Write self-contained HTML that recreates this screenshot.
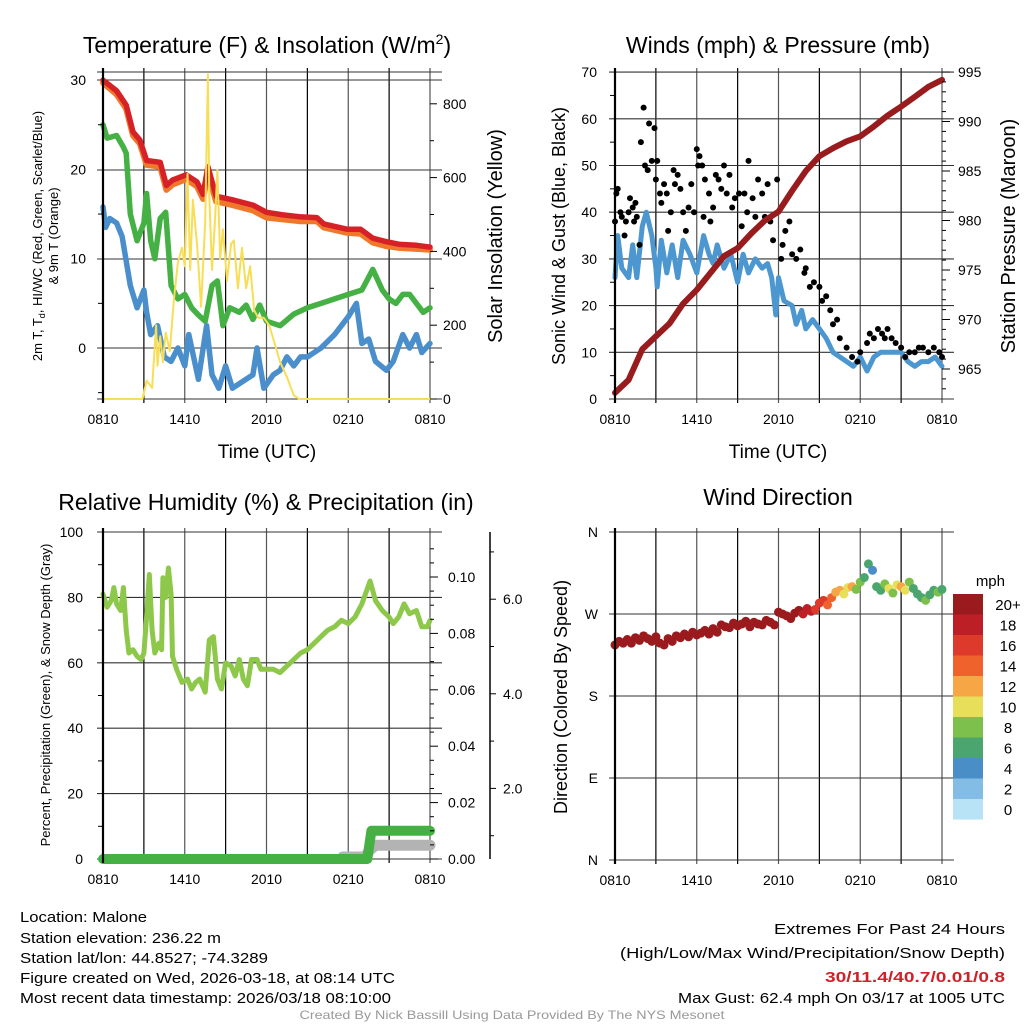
<!DOCTYPE html>
<html><head><meta charset="utf-8"><title>Mesonet Meteogram</title>
<style>
html,body{margin:0;padding:0;background:#fff;}
svg{display:block;font-family:"Liberation Sans",sans-serif;}
</style></head>
<body>
<svg id="chart" width="1024" height="1024" viewBox="0 0 1024 1024">
<g id="grid"></g>
<g id="marks"></g>
<g id="axes"></g>
<g id="labels" fill="#000">
<text x="267" y="53" font-size="23" text-anchor="middle">Temperature (F) &amp; Insolation (W/m<tspan font-size="14" dy="-9">2</tspan><tspan dy="9">)</tspan></text>
<text x="778" y="53" font-size="23" text-anchor="middle">Winds (mph) &amp; Pressure (mb)</text>
<text x="266" y="510" font-size="23" text-anchor="middle">Relative Humidity (%) &amp; Precipitation (in)</text>
<text x="778" y="505" font-size="23" text-anchor="middle">Wind Direction</text>
<text x="267" y="458" font-size="19" text-anchor="middle">Time (UTC)</text>
<text x="778" y="458" font-size="19" text-anchor="middle">Time (UTC)</text>
<g transform="translate(42,236) rotate(-90)" font-size="13" text-anchor="middle">
<text x="0" y="0">2m T, T<tspan font-size="9" dy="3">d</tspan><tspan dy="-3">, HI/WC (Red, Green, Scarlet/Blue)</tspan></text>
<text x="0" y="16">&amp; 9m T (Orange)</text></g>
<text transform="translate(502,236) rotate(-90)" font-size="20" text-anchor="middle">Solar Insolation (Yellow)</text>
<text transform="translate(565,236) rotate(-90)" font-size="18" text-anchor="middle">Sonic Wind &amp; Gust (Blue, Black)</text>
<text transform="translate(1015,236) rotate(-90)" font-size="20" text-anchor="middle">Station Pressure (Maroon)</text>
<text transform="translate(50,695) rotate(-90)" font-size="13" text-anchor="middle">Percent, Precipitation (Green), &amp; Snow Depth (Gray)</text>
<text transform="translate(567,697) rotate(-90)" font-size="18" text-anchor="middle">Direction (Colored By Speed)</text>
<text x="1005" y="586" font-size="15" text-anchor="end">mph</text>
<g font-size="15">
<text x="20" y="922" textLength="127" lengthAdjust="spacingAndGlyphs">Location: Malone</text>
<text x="20" y="943" textLength="201" lengthAdjust="spacingAndGlyphs">Station elevation: 236.22 m</text>
<text x="20" y="963" textLength="248" lengthAdjust="spacingAndGlyphs">Station lat/lon: 44.8527; -74.3289</text>
<text x="20" y="983" textLength="375" lengthAdjust="spacingAndGlyphs">Figure created on Wed, 2026-03-18, at 08:14 UTC</text>
<text x="20" y="1003" textLength="371" lengthAdjust="spacingAndGlyphs">Most recent data timestamp: 2026/03/18 08:10:00</text>
</g>
<g font-size="15" text-anchor="end">
<text x="1005" y="934" textLength="231" lengthAdjust="spacingAndGlyphs">Extremes For Past 24 Hours</text>
<text x="1005" y="958" textLength="385" lengthAdjust="spacingAndGlyphs">(High/Low/Max Wind/Precipitation/Snow Depth)</text>
<text x="1005" y="982" fill="#d0202a" font-weight="bold" textLength="180" lengthAdjust="spacingAndGlyphs">30/11.4/40.7/0.01/0.8</text>
<text x="1005" y="1003" textLength="327" lengthAdjust="spacingAndGlyphs">Max Gust: 62.4 mph On 03/17 at 1005 UTC</text>
</g>
<text x="512" y="1019" font-size="12" fill="#999" text-anchor="middle" textLength="425" lengthAdjust="spacingAndGlyphs">Created By Nick Bassill Using Data Provided By The NYS Mesonet</text>
</g>
</svg>
<script>
// ---------- data ----------
const timeLabels = ["0810","1410","2010","0210","0810"];
const tempHours = [0,1,1.7,2.2,2.7,3.2,4.2,4.65,5.1,6.1,6.9,7.35,7.7,8.3,9.5,11,12,13.2,14.4,15.7,16.2,17.9,18.9,19.8,20.8,21.8,23,24];
const tempRed = [30,28.8,27.2,24.2,23.3,21,20.8,18.2,18.8,19.4,18.6,17.2,20.3,17,16.6,16,15.2,14.9,14.7,14.6,13.9,13.3,13.3,12.3,11.9,11.6,11.5,11.3];
const temp9m = [29.7,28.4,26.8,23.8,22.9,20.5,20.3,17.7,18.3,18.9,18.1,16.7,19.6,16.4,16,15.4,14.6,14.4,14.2,14.2,13.5,12.9,12.8,11.8,11.4,11.2,11.1,11];
const dewHours = [0,0.3,1,1.5,1.7,2,2.5,3,3.2,3.5,3.8,4.2,4.6,5,5.5,6,6.5,7,7.5,8,8.4,8.8,9.3,10,10.5,11,11.5,12,13,14,15,16,17,18,19,19.8,20.5,21,21.5,22,22.5,23,23.5,24];
const dewGreen = [25,23.5,23.8,22.5,21.8,15,12,14,17.3,12,10,14.5,15.2,7,5.5,6,4.5,3.7,3,7,7.5,2.5,4.5,4,4.8,3.2,4.8,3,2.5,3.8,4.5,5,5.5,6,6.5,8.8,6.5,5.5,5,6,6,5,4,4.5];
const wcHours = [0,0.2,0.5,1,1.4,2,2.5,3,3.2,3.5,4,4.5,5,5.5,6,6.3,7,7.6,8,8.5,9,9.5,10,11,11.3,11.8,12.5,13,13.5,14,14.5,15,16,17,18,18.6,19,19.5,20,20.8,21.3,22,22.5,23,23.4,24];
const wcBlue = [15.8,13.5,14.5,14,12.5,7,4.5,6.5,4,1.5,2.5,-1,-1.5,0,-2,1.5,-3.5,2.5,-3,-4.5,-2,-4.5,-4,-3,0,-4.5,-3,-2.5,-1,-2,-1,-1,0,1.5,3.5,5,0.5,1,-1.5,-2.5,-1.5,1.5,0,1.5,-0.5,0.5];
const solarHours = [0,2.9,3.2,3.6,3.9,4.0,4.2,4.4,4.6,4.9,5.2,5.5,5.8,6.0,6.2,6.4,6.6,6.9,7.2,7.5,7.7,7.8,8.0,8.2,8.4,8.6,8.8,9.1,9.4,9.6,9.9,10.2,10.5,10.8,11.1,11.4,11.8,12.2,12.6,13,13.5,14,14.4,24];
const solarW = [0,0,50,30,200,90,170,100,180,130,270,370,410,360,610,350,540,420,250,480,880,550,350,470,620,380,460,320,420,430,300,410,300,360,240,220,220,200,150,100,60,10,0,0];
const pressHours = [0,1,2,3,4,5,6,7,8,9,10,11,12,13,14,15,16,17,18,19,20,21,22,23,24];
const pressMb = [962.6,963.9,967,968.3,969.6,971.6,973,974.7,976.4,977.2,978.7,980,980.9,983,985,986.5,987.3,988,988.5,989.5,990.6,991.5,992.5,993.5,994.2];
const windHours = [0,0.2,0.5,1,1.3,1.6,2,2.3,2.7,3,3.1,3.4,3.8,4.2,4.6,5,5.5,6,6.5,6.9,7.2,7.5,8,8.5,9,9.4,9.8,10.3,10.8,11.2,11.5,11.8,12,12.4,13,13.3,13.7,14,14.5,15,15.5,16,17,17.5,18,18.5,19,19.5,20,21,21.5,22,22.5,23,23.5,24];
const windMph = [26,35,28,26,33,26,37,40,35,28,24,34,27,33,26,34,31,27,35,31,29,33,28,31,25,31,27,30,28,29,26,18,26,21,20,16,19,15,17,15,13,10,8,7,9,6,9,10,10,10,8,7,8,8,9,7];
const gustHours = [0,0.1,0.2,0.4,0.5,0.7,0.8,1,1.1,1.3,1.4,1.5,1.6,1.8,1.9,2.1,2.2,2.4,2.5,2.7,2.9,3,3.1,3.3,3.4,3.6,3.8,3.9,4.1,4.3,4.4,4.6,4.8,5,5.2,5.4,5.6,5.8,6,6.1,6.2,6.4,6.5,6.6,6.9,7,7.2,7.4,7.6,7.8,8,8.2,8.4,8.6,8.8,9.1,9.3,9.5,9.7,9.8,10.1,10.3,10.5,10.8,11,11.2,11.4,11.6,11.9,12.2,12.3,12.5,12.8,13,13.3,13.6,13.9,14,14.3,14.6,15,15.2,15.5,15.8,16,16.3,16.5,17,17.4,17.8,18,18.5,18.7,19,19.3,19.6,19.8,20,20.3,20.6,21,21.3,21.6,22,22.3,22.6,23,23.4,23.8,24];
const gustMph = [38,44,45,40,39,35,38,40,43,41,38,42,39,33,55,62.4,50,49,59,51,58,47,51,44,42,46,44,36,40,49,46,48,45,40,36,41,46,40,53.5,50,52,50,39,47,44,38,41,48,47,45,50,44,48,41,43,44,37,44,40,51,43,39,47,44,39,46,38,34,47,30,33,36,38,31,30,32,27,28,24,25,24,21,22,19,16,17,13,11,9,8,10,12,14,13,15,14,13,15,13,12,11,9,10,10,11,11,10,11,10,9];
const rhHours = [0,0.3,0.6,0.8,1,1.3,1.5,1.7,1.9,2.2,2.5,2.8,3,3.2,3.4,3.6,3.8,4.1,4.3,4.4,4.6,4.8,5,5.1,5.4,5.8,6.2,6.5,6.8,7.1,7.5,7.8,8.1,8.4,8.7,9,9.4,9.7,10,10.3,10.6,10.9,11.3,11.6,12,12.5,13,13.5,14,14.5,15,15.5,16,16.5,17,17.5,18,18.5,19,19.6,20,20.5,21,21.3,21.7,22.1,22.5,23,23.4,23.8,24];
const rhPct = [81,77,79,83,78,76,83,70,63,64,62,61,63,74,87,70,63,66,64,86,80,89,81,62,58,54,55,52,54,55,51,67,68,55,52,60,59,56,61,55,53,61,61,58,58,58,57,59,61,63,64,66,68,70,71,73,72,74,78,85,79,76,74,72,74,78,75,76,71,71,73];
const precipHours = [0,19.4,19.7,24];
const precipIn = [0,0,0.01,0.01];
const snowHours = [17.6,19.2,19.6,20,24];
const snowIn = [0.55,0.55,0.7,0.8,0.8];
const dirHours = [0,0.3,0.6,0.9,1.2,1.5,1.8,2.1,2.4,2.7,3.0,3.3,3.6,3.9,4.2,4.5,4.8,5.1,5.4,5.7,6.0,6.3,6.6,6.9,7.2,7.5,7.8,8.1,8.4,8.7,9.0,9.3,9.6,9.9,10.2,10.5,10.8,11.1,11.4,11.7,12.0,12.3,12.6,12.9,13.2,13.5,13.8,14.1,14.4,14.7,15.0,15.3,15.6,15.9,16.2,16.5,16.8,17.1,17.4,17.7,18.0,18.3,18.6,18.9,19.2,19.5,19.8,20.1,20.4,20.7,21.0,21.3,21.6,21.9,22.2,22.5,22.8,23.1,23.4,23.7,24.0];
const dirDeg = [236,240,238,242,238,244,241,246,243,240,245,238,236,243,240,246,244,248,245,250,247,249,252,248,254,250,258,256,255,260,257,259,262,256,261,259,258,263,261,258,272,270,268,265,271,274,270,276,273,275,282,285,280,288,294,296,292,299,300,297,305,310,325,318,300,296,303,298,293,302,300,296,305,298,292,288,285,291,296,294,297];
const dirSpd = [22,22,22,22,22,22,22,22,22,22,22,22,22,22,22,22,22,22,22,22,22,22,22,22,22,22,22,22,22,22,22,22,22,22,22,22,22,22,22,22,22,22,22,22,22,20,19,18,19,17,16,17,15,14,13,12,11,10,12,9,8,7,6,5,6,7,9,10,8,11,12,10,9,7,6,7,8,7,6,8,7];
const cbLabels = ["20+","18","16","14","12","10","8","6","4","2","0"];
const cbColors = ["#9b1a1e","#bd1f26","#dd3a2c","#ef622c","#f6a645","#e7df5a","#7dc04b","#4aa66e","#4a8ec7","#83bde6","#b8e3f7"];

// ---------- axis functions ----------
const NS = "http://www.w3.org/2000/svg";
const xL = h => 103 + h * (327 / 24);
const xR = h => 615 + h * (327 / 24);
const yTemp = v => 348 - v * 8.93;
const ySolar = w => 399 - w * 0.369;
const yWind = v => 399 - v * 4.67;
const yPress = p => 369 - (p - 965) * 9.9;
const yRH = v => 859 - v * 3.27;
const yPrecip = p => 859 - p * 2820;
const ySnow = s => 883 - s * 47.3;
const yDir = d => 860 - d * (328 / 360);
const spdColor = s => cbColors[Math.max(0, 10 - Math.min(10, Math.floor(s / 2)))];

const gGrid = document.getElementById('grid');
const gMarks = document.getElementById('marks');
const gAxes = document.getElementById('axes');

function mk(tag, attrs, parent, name) {
  const el = document.createElementNS(NS, tag);
  for (const k in attrs) el.setAttribute(k, attrs[k]);
  
  
  parent.appendChild(el);
  return el;
}
function line(x1, y1, x2, y2, stroke, w, parent, name) {
  return mk('line', {x1, y1, x2, y2, stroke, 'stroke-width': w}, parent, name);
}
function txt(x, y, s, anchor, size, parent, name) {
  const t = mk('text', {x, y, 'font-size': size, 'text-anchor': anchor}, parent, name);
  t.textContent = s;
  return t;
}
function poly(hours, vals, fx, fy, color, w, name, parent) {
  const pts = hours.map((h, i) => fx(h).toFixed(1) + ',' + fy(vals[i]).toFixed(1)).join(' ');
  return mk('polyline', {points: pts, fill: 'none', stroke: color, 'stroke-width': w, 'stroke-linejoin': 'round', 'stroke-linecap': 'round'}, parent || gMarks, name);
}

function frame(x0, yTop, yBot, fx, hLines) {
  for (let h = 0; h <= 24; h += 3) {
    line(fx(h), yTop - 4, fx(h), yBot + 4, h % 6 === 0 ? '#555' : '#000', 1.2, gGrid, 'x-grid-line');
  }
  hLines.forEach(y => line(x0 - 6, y, x0 + 339, y, '#333', 1.1, gGrid, 'y-grid-line'));
  line(x0, yTop - 4, x0, yBot + 4, '#000', 2.2, gAxes, 'left-axis-line');
  timeLabels.forEach((s, i) => {
    const t = txt(fx(i * 6), yBot + 25, s, 'middle', 14, gAxes, 'x-tick-label');
    t.setAttribute('textLength', 31);
    t.setAttribute('lengthAdjust', 'spacingAndGlyphs');
  });
}

// ---- Panel 1 ----
frame(103, 72, 399, xL, [72, 80, 170, 259, 348, 399]);
[30,20,10,0].forEach(v => txt(86, yTemp(v) + 5, String(v), 'end', 14, gAxes, 'temperature-tick-label'));
[0,200,400,600,800].forEach(v => {
  txt(443, ySolar(v) + 5, String(v), 'start', 14, gAxes, 'solar-tick-label');
  line(430, ySolar(v), 437, ySolar(v), '#000', 1, gAxes, 'solar-major-tick');
});
for (let v = 100; v < 900; v += 200) line(430, ySolar(v), 434, ySolar(v), '#000', 1, gAxes, 'solar-minor-tick');
for (let v = -5; v < 30; v += 5) if (v % 10) line(98, yTemp(v), 103, yTemp(v), '#000', 1, gAxes, 'temperature-minor-tick');
poly(tempHours, temp9m, xL, yTemp, '#f0782a', 6, 'temp-9m-line');
poly(tempHours, tempRed, xL, yTemp, '#d62227', 5.5, 'temp-2m-line');
poly(dewHours, dewGreen, xL, yTemp, '#45b043', 5.5, 'dewpoint-line');
poly(wcHours, wcBlue, xL, yTemp, '#4a8fcb', 5.5, 'wind-chill-line');
poly(solarHours, solarW, xL, ySolar, '#f7de56', 2, 'solar-insolation-line');

// ---- Panel 2 ----
const p2h = []; for (let v = 0; v <= 70; v += 10) p2h.push(yWind(v));
frame(615, 72, 399, xR, p2h);
for (let v = 0; v <= 70; v += 10) txt(597, yWind(v) + 5, String(v), 'end', 14, gAxes, 'wind-tick-label');
for (let p = 965; p <= 995; p += 5) {
  txt(958, yPress(p) + 5, String(p), 'start', 14, gAxes, 'pressure-tick-label');
  line(942, yPress(p), 950, yPress(p), '#000', 1, gAxes, 'pressure-major-tick');
}
for (let p = 963; p <= 995; p += 1) if (p % 5) line(942, yPress(p), 946, yPress(p), '#000', 1, gAxes, 'pressure-minor-tick');
for (let v = 5; v < 70; v += 10) line(610, yWind(v), 615, yWind(v), '#000', 1, gAxes, 'wind-minor-tick');
poly(windHours, windMph, xR, yWind, '#4d97d1', 5, 'sonic-wind-line');
gustHours.forEach((h, i) => {
  mk('circle', {cx: xR(h), cy: yWind(gustMph[i]), r: 3, fill: '#000'}, gMarks, 'gust-point');
});
poly(pressHours, pressMb, xR, yPress, '#981b1e', 6, 'station-pressure-line');

// ---- Panel 3 ----
const p3h = []; for (let v = 0; v <= 100; v += 20) p3h.push(yRH(v));
frame(103, 532, 859, xL, p3h);
for (let v = 0; v <= 100; v += 20) txt(83, yRH(v) + 5, String(v), 'end', 14, gAxes, 'humidity-tick-label');
for (let v = 10; v < 100; v += 20) line(98, yRH(v), 103, yRH(v), '#000', 1, gAxes, 'humidity-minor-tick');
for (let i = 0; i <= 5; i++) {
  const p = i * 0.02;
  txt(448, yPrecip(p) + 5, p.toFixed(2), 'start', 14, gAxes, 'precip-tick-label');
  line(430, yPrecip(p), 438, yPrecip(p), '#000', 1, gAxes, 'precip-major-tick');
}
for (let i = 1; i <= 22; i++) if (i % 4) line(430, yPrecip(i * 0.005), 434, yPrecip(i * 0.005), '#000', 1, gAxes, 'precip-minor-tick');
line(490, 532, 490, 859, '#000', 1.5, gAxes, 'snow-axis-line');
[2,4,6].forEach(s => {
  txt(503, ySnow(s) + 5, s.toFixed(1), 'start', 14, gAxes, 'snow-tick-label');
  line(490, ySnow(s), 496, ySnow(s), '#000', 1, gAxes, 'snow-major-tick');
});
for (let s = 1; s <= 7; s += 2) line(490, ySnow(s), 494, ySnow(s), '#000', 1, gAxes, 'snow-minor-tick');
poly(snowHours, snowIn, xL, ySnow, '#b3b3b3', 11, 'snow-depth-line');
poly(rhHours, rhPct, xL, yRH, '#8dc84b', 5, 'relative-humidity-line');
poly(precipHours, precipIn, xL, yPrecip, '#45b043', 10, 'precipitation-line');

// ---- Panel 4 ----
const dirTicks = ["N","E","S","W","N"];
frame(615, 532, 860, xR, [532, 614, 696, 778, 860]);
dirTicks.forEach((s, i) => txt(598, yDir(i * 90) + 5, s, 'end', 14, gAxes, 'direction-tick-label'));
dirHours.forEach((h, i) => {
  mk('circle', {cx: xR(h), cy: yDir(dirDeg[i]), r: 4.5, fill: spdColor(dirSpd[i])}, gMarks, 'direction-point');
});
cbColors.forEach((c, i) => {
  mk('rect', {x: 953, y: 594 + i * 20.5, width: 30, height: 20.6, fill: c}, gAxes, 'colorbar-swatch');
  txt(1008, 594 + i * 20.5 + 16, cbLabels[i], 'middle', 15, gAxes, 'colorbar-label');
});
</script>
</body></html>
